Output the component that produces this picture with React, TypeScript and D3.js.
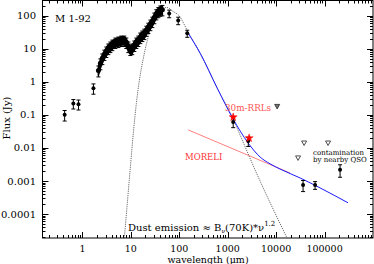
import React from 'react'
import * as d3 from 'd3'

// ISO / Spitzer spectrum (um, Jy)
const specWave = [2.14, 2.35, 2.58, 2.84, 3.12, 3.43, 3.78, 4.15, 4.79, 5.53, 6.36, 7.33, 8.07, 8.88, 9.77, 10.7, 11.8, 13.0, 14.3, 15.7, 17.3, 19.0, 20.9, 23.0, 25.3, 27.8, 30.6, 33.6, 37.0, 40.7, 44.8]
const specFlux = [2.2, 3.6, 5.1, 6.7, 8.3, 10.2, 11.7, 13.4, 15.5, 16.6, 17.8, 17.8, 15.5, 11.7, 9.5, 10.2, 12.6, 15.5, 17.8, 21.9, 25.2, 28.8, 35.6, 43.7, 53.9, 66.3, 87.6, 112, 130, 145, 150]
const specErr = [0.8, 1.3, 1.8, 2.3, 2.9, 3.6, 4.1, 4.7, 5.4, 5.8, 6.2, 6.2, 5.4, 4.1, 3.3, 3.6, 4.4, 5.4, 6.2, 7.7, 8.8, 10, 12, 15, 19, 23, 31, 38, 44, 50, 52]

// photometry (black points with error bars)
const photWave = [0.43, 0.65, 0.83, 1.69, 62, 95, 146, 1298, 2660, 36000, 63700, 209000]
const photFlux = [0.1, 0.22, 0.21, 0.64, 116, 71, 29, 0.061, 0.0161, 0.00076, 0.00076, 0.0022]
const photErr = [0.035, 0.07, 0.07, 0.22, 30, 18, 7, 0.02, 0.005, 0.00028, 0.0002, 0.0009]

// red points (30m RRLs / MORELI)
const redWave = [1298, 2773]
const redFlux = [0.085, 0.0198]

// upper limits
const ulWave = [10500, 37800, 118000, 28400]
const ulFlux = [0.18, 0.0141, 0.0141, 0.005]

// dust model
const dustWave = [7.35, 8.47, 9.78, 11.3, 13.0, 15.0, 18.1, 21.9, 27.7, 35, 44.6, 56, 71, 105, 146, 271, 608, 1300, 1560, 4200, 16800]
const dustFlux = [1.9e-5, 2.2e-4, 0.00266, 0.030, 0.22, 1.1, 5.1, 17.8, 54, 116, 163, 175, 140, 88, 35.5, 7.2, 0.64, 0.074, 0.040, 0.0014, 1.9e-5]

// total model (blue)
const totalWave = [153, 271, 608, 1300, 2650, 4680, 7520, 12080, 31200, 80800, 305000]
const totalFlux = [29, 7.2, 0.64, 0.074, 0.014, 0.0053, 0.0033, 0.0023, 0.00124, 0.00062, 0.00022]

// free-free (MORELI)
const moreliWave = [153, 19400]
const moreliFlux = [0.035, 0.00175]

const xTickLabels = ['1', '10', '100', '1000', '10000', '100000']
const yTickLabels = ['0.0001', '0.001', '0.01', '0.1', '1', '10', '100']

const W = 374
const H = 264
const L = 42.5
const R = 373
const T = 0.5
const B = 238
const FONT = 'DejaVu Serif'

const App = () => {
    const x = d3.scaleLog().domain([0.15, 1e6]).range([L, R])
    const y = d3.scaleLog().domain([1.9e-5, 285]).range([B, T])

    const line = (ws: number[], fs: number[]) =>
        d3.line<number>()
            .x((d, i) => x(ws[i]))
            .y((d, i) => y(fs[i]))
            .curve(d3.curveMonotoneX)(ws) || ''

    // spectrum drawn as a band of overlapping error bars
    const band = d3.area<number>()
        .x((d, i) => x(specWave[i]))
        .y0((d, i) => y(specFlux[i] - specErr[i] * 0.8))
        .y1((d, i) => y(specFlux[i] + specErr[i] * 0.8))
        .curve(d3.curveMonotoneX)(specWave) || ''

    const minorX: number[] = []
    for (let k = -1; k <= 6; k++) for (let m = 1; m <= 9; m++) {
        const v = m * Math.pow(10, k)
        if (v > 0.15 && v < 1e6) minorX.push(v)
    }
    const minorY: number[] = []
    for (let k = -5; k <= 2; k++) for (let m = 1; m <= 9; m++) {
        const v = m * Math.pow(10, k)
        if (v > 1.9e-5 && v < 285) minorY.push(v)
    }
    const isMajor = (v: number) => Math.abs(Math.log10(v) - Math.round(Math.log10(v))) < 1e-9

    const errBar = (xv: number, f: number, e: number, key: string, cap = 2) => {
        const px = x(xv)
        const y1 = y(f + e)
        const y2 = y(Math.max(f - e, 1e-6))
        return (
            <g key={key} stroke="black" strokeWidth={1}>
                <line x1={px} x2={px} y1={y1} y2={y2} />
                <line x1={px - cap} x2={px + cap} y1={y1} y2={y1} />
                <line x1={px - cap} x2={px + cap} y1={y2} y2={y2} />
            </g>
        )
    }

    const star = d3.symbol(d3.symbolStar, 20)() || ''

    return (
        <svg width={W} height={H} style={{ position: 'absolute', left: 0, top: 0, background: 'white' }} fontFamily={FONT}>
            <defs>
                <clipPath id="plotArea">
                    <rect x={L} y={T} width={R - L} height={B - T} />
                </clipPath>
            </defs>

            {/* ticks */}
            <g stroke="black" strokeWidth={1}>
                {minorX.map((v, i) => {
                    const len = isMajor(v) ? 6 : 3
                    const px = Math.round(x(v)) + 0.5
                    return (
                        <g key={'xt' + i}>
                            <line x1={px} x2={px} y1={B} y2={B - len} />
                            <line x1={px} x2={px} y1={T} y2={T + len} />
                        </g>
                    )
                })}
                {minorY.map((v, i) => {
                    const len = isMajor(v) ? 6 : 3
                    const py = Math.round(y(v)) + 0.5
                    return (
                        <g key={'yt' + i}>
                            <line x1={L} x2={L + len} y1={py} y2={py} />
                            <line x1={R} x2={R - len} y1={py} y2={py} />
                        </g>
                    )
                })}
            </g>
            <rect x={L} y={T} width={R - L} height={B - T} fill="none" stroke="black" strokeWidth={1} />

            {xTickLabels.map((t) => (
                <text key={t} x={x(+t)} y={251.5} textAnchor="middle" fontSize={9.5}>{t}</text>
            ))}
            {yTickLabels.map((t) => (
                <text key={t} x={36} y={y(+t)} dy="0.35em" textAnchor="end" fontSize={10}>{t}</text>
            ))}

            <text x={208} y={263} textAnchor="middle" fontSize={9.5}>wavelength (μm)</text>
            <text transform="translate(10,118) rotate(-90)" textAnchor="middle" fontSize={10}>Flux (Jy)</text>

            <g clipPath="url(#plotArea)">
                {/* dust model */}
                <path d={line(dustWave, dustFlux)} fill="none" stroke="#444" strokeWidth={0.8} strokeDasharray="1.2,1" />
                {/* free-free */}
                <path d={line(moreliWave, moreliFlux)} fill="none" stroke="#ff8080" strokeWidth={1} />
                {/* total */}
                <path d={line(totalWave, totalFlux)} fill="none" stroke="#1a1aff" strokeWidth={1} />

                {/* spectrum */}
                <path d={band} fill="black" stroke="black" strokeWidth={1.5} strokeLinejoin="round" />
                {specWave.map((w, i) => errBar(w, specFlux[i], specErr[i], 'se' + i, 2))}
                {specWave.map((w, i) => (
                    <circle key={'sp' + i} cx={x(w)} cy={y(specFlux[i])} r={2.5} fill="black" />
                ))}

                {/* photometry */}
                {photWave.map((w, i) => errBar(w, photFlux[i], photErr[i], 'pe' + i, 2))}
                {photWave.map((w, i) => (
                    <circle key={'ph' + i} cx={x(w)} cy={y(photFlux[i])} r={2} fill="black" />
                ))}

                {/* red points */}
                {redWave.map((w, i) => (
                    <path key={'rd' + i} d={star} transform={`translate(${x(w)},${y(redFlux[i])})`} fill="red" stroke="red" strokeWidth={0.5} />
                ))}

                {/* upper limits */}
                {ulWave.map((w, i) => {
                    const px = x(w)
                    const py = y(ulFlux[i])
                    return (
                        <path key={'ul' + i} d={`M${px - 2.5},${py - 2} L${px + 2.5},${py - 2} L${px},${py + 2.5} Z`} fill={i === 0 ? '#777' : 'none'} stroke="#222" strokeWidth={0.8} />
                    )
                })}
            </g>

            <text x={55} y={22} fontSize={10}>M 1-92</text>
            <text x={225} y={111} fontSize={8.8} fill="#ff5555">30m-RRLs</text>
            <text x={185} y={160} fontSize={8.5} fill="#ff3333">MORELI</text>
            <text x={313} y={155} fontSize={7}>contamination</text>
            <text x={313} y={162} fontSize={7}>by nearby QSO</text>
            <text x={128} y={231} fontSize={10}>
                Dust emission ≈ B<tspan fontSize={6} dy={2}>ν</tspan>
                <tspan dy={-2}>(70K)*ν</tspan>
                <tspan fontSize={7} dy={-5}>1.2</tspan>
            </text>
        </svg>
    )
}

export default App
